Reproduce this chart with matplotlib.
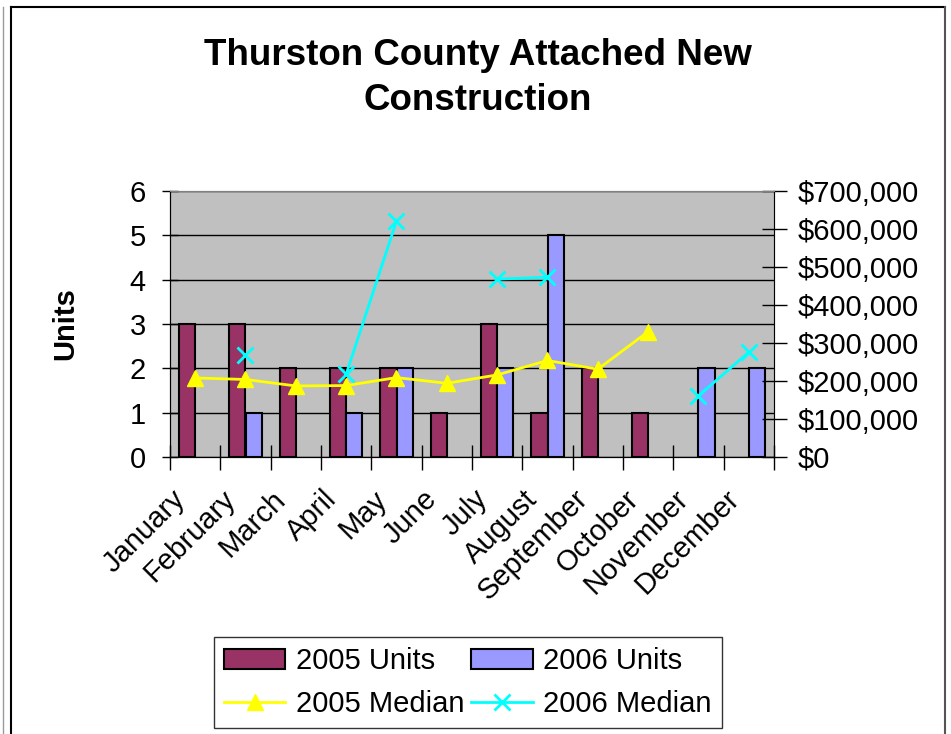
import numpy as np
import matplotlib
matplotlib.use("Agg")
import matplotlib.pyplot as plt
import matplotlib.transforms as mtransforms
from matplotlib.lines import Line2D
from matplotlib.patches import Patch
from matplotlib.ticker import FuncFormatter

plt.rcParams['font.family'] = ['Liberation Sans', 'DejaVu Sans']

# === data ===
months = ["January", "February", "March", "April", "May", "June", "July",
          "August", "September", "October", "November", "December"]
units_2005 = [3, 3, 2, 2, 2, 1, 3, 1, 2, 1, 0, 0]
units_2006 = [0, 1, 0, 1, 2, 0, 2, 5, 0, 0, 2, 2]
median_2005 = [208000, 204000, 187000, 188000, 209000, 194000, 216000,
               254000, 231000, 330000, np.nan, np.nan]
median_2006 = [np.nan, 268000, np.nan, 218000, 621000, np.nan, 468000,
               473000, np.nan, np.nan, 161000, 276000]

c05, c06 = "#993366", "#9999FF"

fig = plt.figure(figsize=(9.51, 7.34), dpi=100)
ax = fig.add_axes([170 / 951, 1 - 457 / 734, 604 / 951, 266 / 734])
ax.set_facecolor("#C0C0C0")

x = np.arange(len(months))
w = 0.318
b1 = ax.bar(x - w / 2, units_2005, w, color=c05, edgecolor="black",
            linewidth=1.5, zorder=3)
b2 = ax.bar(x + w / 2, units_2006, w, color=c06, edgecolor="black",
            linewidth=1.5, zorder=3)
# hide empty bars (zero height would leave a flat edge line)
for bars in (b1, b2):
    for p in bars:
        if p.get_height() == 0:
            p.set_visible(False)

ax.set_xlim(-0.5, len(months) - 0.5)
ax.set_ylim(0, 6)
ax.set_yticks(range(7))
ax.yaxis.grid(True, color="black", linewidth=1.0, zorder=1)
ax.set_axisbelow(True)
ax.tick_params(axis="y", labelsize=21, length=11, direction="inout", width=1, pad=12)
ax.set_ylabel("Units", fontsize=21, fontweight="bold", labelpad=36)

ax.set_xticks(x)
ax.set_xticklabels(months, rotation=45, ha="right", rotation_mode="anchor",
                   fontsize=21)
ax.tick_params(axis="x", which="major", length=0, pad=20)
shift = mtransforms.ScaledTranslation(-0.24, 0, fig.dpi_scale_trans)
for t in ax.get_xticklabels():
    t.set_transform(t.get_transform() + shift)
ax.set_xticks(np.arange(-0.5, len(months), 1), minor=True)
ax.tick_params(axis="x", which="minor", length=18, direction="inout", width=1)

for s in ["top", "right"]:
    ax.spines[s].set_color("#808080")
ax.spines["left"].set_color("black")
ax.spines["bottom"].set_color("black")

ax2 = ax.twinx()
l1, = ax2.plot(x, median_2005, color="#FFFF00", linewidth=2, marker="^",
               markersize=11, zorder=4)
l2, = ax2.plot(x, median_2006, color="#00FFFF", linewidth=2, marker="x",
               markersize=11, markeredgewidth=2, zorder=4)
ax2.set_ylim(0, 700000)
ax2.set_yticks(range(0, 700001, 100000))
ax2.yaxis.set_major_formatter(FuncFormatter(lambda v, p: "${:,.0f}".format(v)))
ax2.tick_params(axis="y", labelsize=21, length=18, direction="inout", width=1, pad=8)
ax2.spines["right"].set_color("black")
ax2.spines["top"].set_color("#808080")

fig.text(478 / 951, 1 - 78 / 734, "Thurston County Attached New\nConstruction",
         ha="center", va="center", fontsize=26.5, fontweight="bold",
         linespacing=1.4)

handles = [Patch(facecolor=c05, edgecolor="black", linewidth=1.5), l1,
           Patch(facecolor=c06, edgecolor="black", linewidth=1.5), l2]
labels = ["2005 Units", "2005 Median", "2006 Units", "2006 Median"]
leg = fig.legend(handles, labels, ncol=2, fontsize=21, loc="lower left",
                 bbox_to_anchor=(214 / 951, 1 - 728 / 734), borderaxespad=0,
                 frameon=True, fancybox=False, edgecolor="black",
                 borderpad=0.35, columnspacing=0.25, handletextpad=0.35,
                 handlelength=2.1, labelspacing=0.5)
leg.get_frame().set_linewidth(1.0)

# outer frame lines
fig.add_artist(Line2D([11 / 951, 11 / 951], [0, 1 - 7 / 734], color="black",
                      linewidth=1.5, transform=fig.transFigure))
fig.add_artist(Line2D([11 / 951, 945 / 951], [1 - 7 / 734, 1 - 7 / 734],
                      color="black", linewidth=1.5, transform=fig.transFigure))
fig.add_artist(Line2D([945 / 951, 945 / 951], [0, 1 - 7 / 734], color="#555555",
                      linewidth=1.5, transform=fig.transFigure))
fig.add_artist(Line2D([3 / 951, 3 / 951], [0, 1 - 7 / 734], color="#999999",
                      linewidth=1.0, transform=fig.transFigure))

fig.savefig("out.png", dpi=100)
